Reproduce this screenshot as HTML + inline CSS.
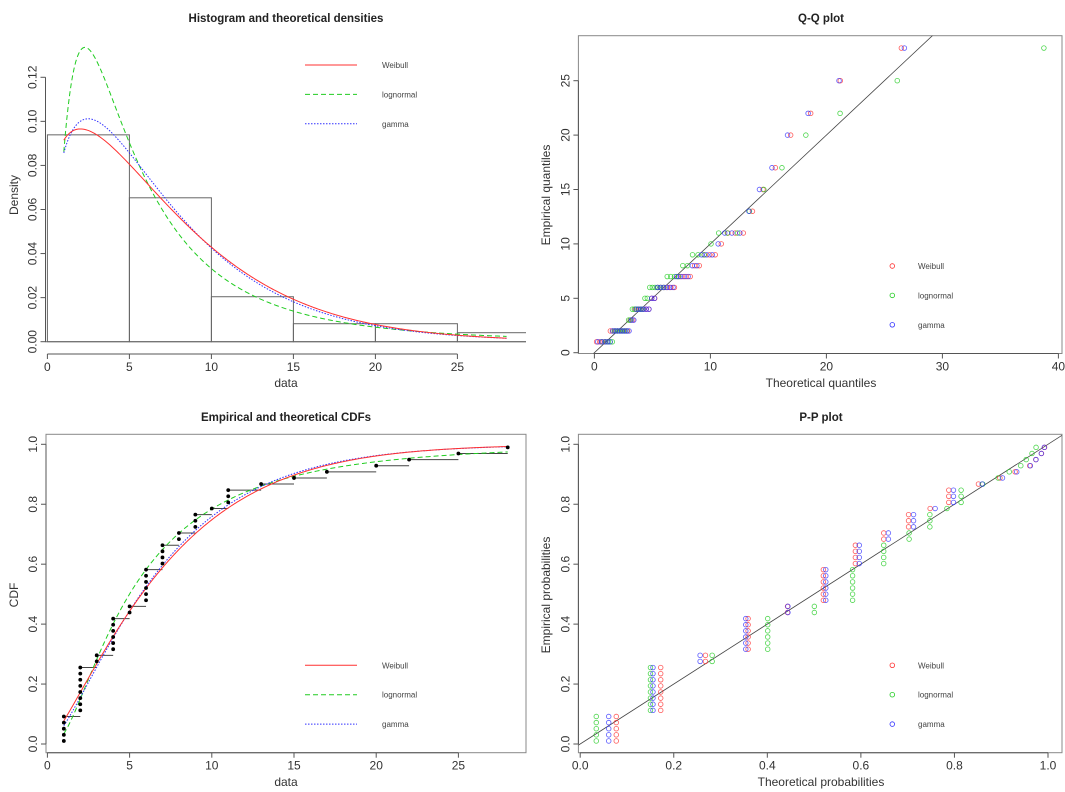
<!DOCTYPE html>
<html><head><meta charset="utf-8">
<style>
html,body{margin:0;padding:0;background:#fff;}
svg{display:block;font-family:"Liberation Sans",Arial,sans-serif;}
.tk{font-size:12px;fill:#333;}
.at{font-size:12px;fill:#333;}
.tt{font-size:11.5px;font-weight:bold;fill:#222;}
.lg{font-size:8px;fill:#444;}
</style></head>
<body>
<svg id="fig" width="1065" height="792" viewBox="0 0 1065 792" xmlns="http://www.w3.org/2000/svg">
<defs>
<clipPath id="c1"><rect x="45" y="20" width="481" height="335"/></clipPath>
<clipPath id="c2"><rect x="578.4" y="35.7" width="483.6" height="317.8"/></clipPath>
<clipPath id="c3"><rect x="46" y="434.3" width="480" height="318.4"/></clipPath>
<clipPath id="c4"><rect x="578.4" y="434.3" width="483.6" height="318.4"/></clipPath>
</defs>
</svg>
<script>
// ---- data (observed values and their counts) ----
const values = [1,2,3,4,5,6,7,8,9,10,11,13,15,17,20,22,25,28];
const counts = [5,8,2,6,2,6,4,2,3,1,3,1,1,1,1,1,1,1];
const distNames = ["Weibull","lognormal","gamma"];
const distColors = ["#ff3030","#20cc20","#3030ff"];
const histBreaks = [0,5,10,15,20,25,30];
const densTicks = [0,0.02,0.04,0.06,0.08,0.10,0.12];
const densTickLabels = ["0.00","0.02","0.04","0.06","0.08","0.10","0.12"];
const dataTicks = [0,5,10,15,20,25];
const qqXTicks = [0,10,20,30,40];
const qqYTicks = [0,5,10,15,20,25];
const probTicks = [0,0.2,0.4,0.6,0.8,1.0];
const probTickLabels = ["0.0","0.2","0.4","0.6","0.8","1.0"];

const NS="http://www.w3.org/2000/svg";
const svg=document.getElementById('fig');
function el(tag,attrs,parent){const e=document.createElementNS(NS,tag);for(const k in attrs)e.setAttribute(k,attrs[k]);(parent||svg).appendChild(e);return e;}
function txt(s,x,y,cls,rot,anchor){const t=el('text',{x:x,y:y,'class':cls,'text-anchor':anchor||'middle'});if(rot)t.setAttribute('transform','rotate(-90 '+x+' '+y+')');t.textContent=s;return t;}

// ---- math ----
const data=[];values.forEach((v,i)=>{for(let j=0;j<counts[i];j++)data.push(v);});
const n=data.length;
function lgamma(z){const g=7,c=[0.99999999999980993,676.5203681218851,-1259.1392167224028,771.32342877765313,-176.61502916214059,12.507343278686905,-0.13857109526572012,9.9843695780195716e-6,1.5056327351493116e-7];
 if(z<0.5)return Math.log(Math.PI/Math.sin(Math.PI*z))-lgamma(1-z);z-=1;let a=c[0];const t=z+g+0.5;for(let i=1;i<9;i++)a+=c[i]/(z+i);return 0.5*Math.log(2*Math.PI)+(z+0.5)*Math.log(t)-t+Math.log(a);}
function gammaP(a,x){if(x<=0)return 0;if(x<a+1){let s=1/a,t=s;for(let k=1;k<300;k++){t*=x/(a+k);s+=t;if(t<s*1e-14)break;}return s*Math.exp(-x+a*Math.log(x)-lgamma(a));}
 let b=x+1-a,c=1e300,d=1/b,h=d;for(let i=1;i<300;i++){const an=-i*(i-a);b+=2;d=an*d+b;if(Math.abs(d)<1e-300)d=1e-300;c=b+an/c;if(Math.abs(c)<1e-300)c=1e-300;d=1/d;const de=d*c;h*=de;if(Math.abs(de-1)<1e-14)break;}
 return 1-Math.exp(-x+a*Math.log(x)-lgamma(a))*h;}
function digamma(x){let r=0;while(x<6){r-=1/x;x+=1;}const f=1/(x*x);return r+Math.log(x)-0.5/x-f*(1/12-f*(1/120-f/252));}
function pnorm(z){const t=1/(1+0.2316419*Math.abs(z));const d=0.3989423*Math.exp(-z*z/2);const p=d*t*(0.3193815+t*(-0.3565638+t*(1.781478+t*(-1.821256+t*1.330274))));return z>0?1-p:p;}
function qnorm(p){const a=[-39.69683028665376,220.9460984245205,-275.9285104469687,138.3577518672690,-30.66479806614716,2.506628277459239],b=[-54.47609879822406,161.5858368580409,-155.6989798598866,66.80131188771972,-13.28068155288572],c=[-0.007784894002430293,-0.3223964580411365,-2.400758277161838,-2.549732539343734,4.374664141464968,2.938163982698783],d=[0.007784695709041462,0.3224671290700398,2.445134137142996,3.754408661907416];
 const pl=0.02425;let q,r;if(p<pl){q=Math.sqrt(-2*Math.log(p));return(((((c[0]*q+c[1])*q+c[2])*q+c[3])*q+c[4])*q+c[5])/((((d[0]*q+d[1])*q+d[2])*q+d[3])*q+1);}
 if(p>1-pl){q=Math.sqrt(-2*Math.log(1-p));return-(((((c[0]*q+c[1])*q+c[2])*q+c[3])*q+c[4])*q+c[5])/((((d[0]*q+d[1])*q+d[2])*q+d[3])*q+1);}
 q=p-0.5;r=q*q;return(((((a[0]*r+a[1])*r+a[2])*r+a[3])*r+a[4])*r+a[5])*q/(((((b[0]*r+b[1])*r+b[2])*r+b[3])*r+b[4])*r+1);}
function bisect(f,lo,hi){for(let i=0;i<100;i++){const m=(lo+hi)/2;if(f(lo)*f(m)<=0)hi=m;else lo=m;}return (lo+hi)/2;}

const logs=data.map(Math.log);
const meanLog=logs.reduce((a,b)=>a+b,0)/n;
const mean=data.reduce((a,b)=>a+b,0)/n;
// lognormal MLE
const lnMu=meanLog, lnSd=Math.sqrt(logs.reduce((a,b)=>a+(b-meanLog)**2,0)/n);
// weibull MLE
const wK=bisect(k=>{let s1=0,s2=0;data.forEach(x=>{const xk=Math.pow(x,k);s1+=xk*Math.log(x);s2+=xk;});return s1/s2-1/k-meanLog;},0.1,10);
const wL=Math.pow(data.reduce((a,x)=>a+Math.pow(x,wK),0)/n,1/wK);
// gamma MLE
const sG=Math.log(mean)-meanLog;
const gK=bisect(k=>Math.log(k)-digamma(k)-sG,0.05,50);
const gT=mean/gK;

const dens=[
 x=>wK/wL*Math.pow(x/wL,wK-1)*Math.exp(-Math.pow(x/wL,wK)),
 x=>Math.exp(-((Math.log(x)-lnMu)**2)/(2*lnSd*lnSd))/(x*lnSd*Math.sqrt(2*Math.PI)),
 x=>Math.exp((gK-1)*Math.log(x)-x/gT-lgamma(gK)-gK*Math.log(gT))];
const cdf=[
 x=>1-Math.exp(-Math.pow(x/wL,wK)),
 x=>pnorm((Math.log(x)-lnMu)/lnSd),
 x=>gammaP(gK,x/gT)];
const qf=[
 p=>wL*Math.pow(-Math.log(1-p),1/wK),
 p=>Math.exp(lnMu+lnSd*qnorm(p)),
 p=>bisect(x=>gammaP(gK,x/gT)-p,1e-6,200)];
const dashes=["","5,3","1.5,1.5"];
const ppos=data.map((v,i)=>(i+0.5)/n);

// ---- axis helpers ----
function axisBottom(g,ticks,labels,sx,y){el('line',{x1:sx(ticks[0]),x2:sx(ticks[ticks.length-1]),y1:y,y2:y,stroke:'#555','stroke-width':1},g);
 ticks.forEach((t,i)=>{el('line',{x1:sx(t),x2:sx(t),y1:y,y2:y+5,stroke:'#555'},g);txt(labels[i],sx(t),y+17,'tk');});}
function axisLeft(g,ticks,labels,sy,x){el('line',{x1:x,x2:x,y1:sy(ticks[0]),y2:sy(ticks[ticks.length-1]),stroke:'#555','stroke-width':1},g);
 ticks.forEach((t,i)=>{el('line',{x1:x,x2:x-5,y1:sy(t),y2:sy(t),stroke:'#555'},g);txt(labels[i],x-9,sy(t),'tk',true);});}
function pathFrom(pts){return pts.map((p,i)=>(i?'L':'M')+p[0].toFixed(2)+','+p[1].toFixed(2)).join('');}
function lineLegend(g,y0,x1,x2,tx){distNames.forEach((nm,i)=>{const y=y0+i*29.4;
 const l=el('line',{x1:x1,x2:x2,y1:y,y2:y,stroke:distColors[i],'stroke-width':1,'stroke-dasharray':dashes[i]},g);
 
 const t=txt(nm,tx,y+3,'lg',false,'start');});}
function pointLegend(g,y0,cx,tx){distNames.forEach((nm,i)=>{const y=y0+i*29.4;
 const c=el('circle',{cx:cx,cy:y,r:2.3,fill:'none',stroke:distColors[i],'stroke-width':0.8},g);
 
 const t=txt(nm,tx,y+3,'lg',false,'start');});}

// ===== Panel 1: histogram & densities =====
{const g=el('g',{});
 const sx=x=>47.4+x*16.4, sy=d=>341.7-d*2203.5;
 const t=txt('Histogram and theoretical densities',286,22,'tt');
 const cg=el('g',{'clip-path':'url(#c1)'},g);
 for(let i=0;i<histBreaks.length-1;i++){const lo=histBreaks[i],hi=histBreaks[i+1];
  const c=data.filter(x=>x>lo&&x<=hi).length;const h=c/(n*(hi-lo));
  const r=el('rect',{x:sx(lo),y:sy(h),width:sx(hi)-sx(lo),height:sy(0)-sy(h),fill:'none',stroke:'#666','stroke-width':1},cg);
  }
 el('line',{x1:45,x2:526,y1:sy(0),y2:sy(0),stroke:'#666'},cg);
 const xmin=values[0],xmax=values[values.length-1];
 [1,2,0].forEach(k=>{const pts=[];for(let i=0;i<=300;i++){const x=xmin+(xmax-xmin)*i/300;pts.push([sx(x),sy(dens[k](x))]);}
  const p=el('path',{d:pathFrom(pts),fill:'none',stroke:distColors[k],'stroke-width':1,'stroke-dasharray':dashes[k]},cg);
  });
 axisBottom(g,dataTicks,dataTicks.map(String),sx,354);
 axisLeft(g,densTicks,densTickLabels,sy,45.5);
 txt('data',286,387,'at');
 txt('Density',18,195,'at',true);
 lineLegend(g,65,305,357,382);}

// ===== Panel 2: Q-Q =====
{const g=el('g',{});
 const sx=x=>594.4+x*11.6, sy=y=>352.7-y*10.88;
 txt('Q-Q plot',821,22,'tt');
 el('rect',{x:578.4,y:35.7,width:483.6,height:317.8,fill:'none',stroke:'#888','stroke-width':1},g);
 const cg=el('g',{'clip-path':'url(#c2)'},g);
 el('line',{x1:sx(-5),y1:sy(-5),x2:sx(60),y2:sy(60),stroke:'#444','stroke-width':0.8},cg);
 [0,1,2].forEach(k=>{data.forEach((v,i)=>{const c=el('circle',{cx:sx(qf[k](ppos[i])),cy:sy(v),r:2.3,fill:'none',stroke:distColors[k],'stroke-width':0.8,'stroke-opacity':0.8},cg);
  });});
 axisBottom(g,qqXTicks,qqXTicks.map(String),sx,353.5);
 axisLeft(g,qqYTicks,qqYTicks.map(String),sy,578.4);
 txt('Theoretical quantiles',821,387,'at');
 txt('Empirical quantiles',550,195,'at',true);
 pointLegend(g,266,892.3,918);}

// ===== Panel 3: CDFs =====
{const g=el('g',{});
 const sx=x=>47.4+x*16.44, sy=p=>744-p*299.7;
 txt('Empirical and theoretical CDFs',286,421,'tt');
 el('rect',{x:46,y:434.3,width:480,height:318.4,fill:'none',stroke:'#888','stroke-width':1},g);
 const cg=el('g',{'clip-path':'url(#c3)'},g);
 let idx=0;values.forEach((v,j)=>{idx+=counts[j];const top=(idx-0.5)/n;const nx=j<values.length-1?values[j+1]:v;
  const s=el('line',{x1:sx(v),x2:sx(nx),y1:sy(top),y2:sy(top),stroke:'#444','stroke-width':1},cg);
  });
 const xmin=values[0],xmax=values[values.length-1];
 [1,2,0].forEach(k=>{const pts=[];for(let i=0;i<=300;i++){const x=xmin+(xmax-xmin)*i/300;pts.push([sx(x),sy(cdf[k](x))]);}
  const p=el('path',{d:pathFrom(pts),fill:'none',stroke:distColors[k],'stroke-width':1,'stroke-dasharray':dashes[k]},cg);
  });
 data.forEach((v,i)=>{const c=el('circle',{cx:sx(v),cy:sy(ppos[i]),r:1.9,fill:'#000'},cg);
  });
 axisBottom(g,dataTicks,dataTicks.map(String),sx,752.7);
 axisLeft(g,probTicks,probTickLabels,sy,46);
 txt('data',286,786,'at');
 txt('CDF',18,595,'at',true);
 lineLegend(g,665.3,305,357,382);}

// ===== Panel 4: P-P =====
{const g=el('g',{});
 const sx=p=>580.2+p*467.8, sy=p=>744-p*299.7;
 txt('P-P plot',821,421,'tt');
 el('rect',{x:578.4,y:434.3,width:483.6,height:318.4,fill:'none',stroke:'#888','stroke-width':1},g);
 const cg=el('g',{'clip-path':'url(#c4)'},g);
 el('line',{x1:sx(-0.1),y1:sy(-0.1),x2:sx(1.2),y2:sy(1.2),stroke:'#444','stroke-width':0.8},cg);
 [0,1,2].forEach(k=>{data.forEach((v,i)=>{const c=el('circle',{cx:sx(cdf[k](v)),cy:sy(ppos[i]),r:2.3,fill:'none',stroke:distColors[k],'stroke-width':0.8,'stroke-opacity':0.8},cg);
  });});
 axisBottom(g,probTicks,probTickLabels,sx,752.7);
 axisLeft(g,probTicks,probTickLabels,sy,578.4);
 txt('Theoretical probabilities',821,786,'at');
 txt('Empirical probabilities',550,595,'at',true);
 pointLegend(g,665.3,892.3,918);}
</script>
</body></html>
